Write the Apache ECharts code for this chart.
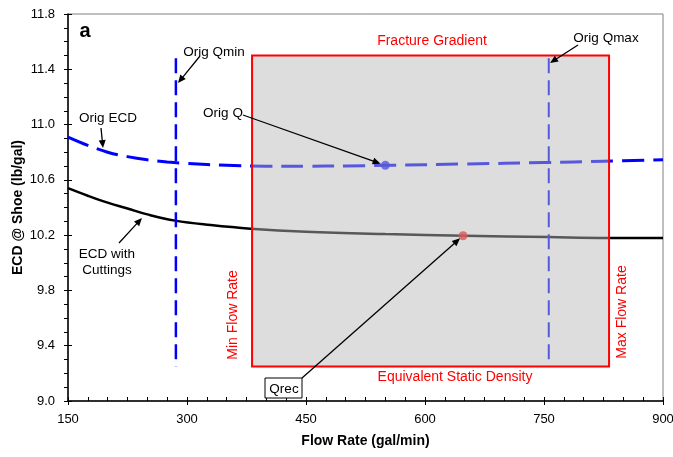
<!DOCTYPE html>
<html><head><meta charset="utf-8">
<script src="https://cdn.jsdelivr.net/npm/echarts@6/dist/echarts.min.js"></script>
<style>html,body{margin:0;padding:0;background:#fff}#c{width:673px;height:457px}</style>
</head><body><div id="c"></div>
<script>
// ---- data ----
const origFlow = [150,175,200,225,250,275,300,350,400,450,500,550,650,750,825,900];
const origEcd  = [10.91,10.85,10.80,10.768,10.745,10.729,10.718,10.705,10.699,10.699,10.701,10.705,10.715,10.725,10.735,10.745];
const cutFlow  = [150,175,200,225,250,285,330,380,450,550,650,756,830,900];
const cutEcd   = [10.54,10.485,10.435,10.393,10.35,10.305,10.273,10.247,10.225,10.208,10.196,10.186,10.18,10.18];
const xTicks = [150,300,450,600,750,900];
const yTicks = [9.0,9.4,9.8,10.2,10.6,11.0,11.4,11.8];
const qminFlow = 286, qmaxFlow = 756;
const vLineRange = [11.48, 9.25];
const origQ = [550, 10.705];
const qrec = [648, 10.196];
const windowFlow = [382, 832];
const windowEcd = [9.25, 11.5];

const FONT = '"Liberation Sans", Arial, sans-serif';
const chart = echarts.init(document.getElementById('c'));
const xMin = xTicks[0], xMax = xTicks[xTicks.length-1], xInt = xTicks[1]-xTicks[0];
const yMin = yTicks[0], yMax = yTicks[yTicks.length-1], yInt = +(yTicks[1]-yTicks[0]).toFixed(2);

const baseX = {type:'value', min:xMin, max:xMax, interval:xInt, splitLine:{show:false}};
const baseY = {type:'value', min:yMin, max:yMax, interval:yInt, splitLine:{show:false}};

chart.setOption({
  animation:false,
  backgroundColor:'#fff',
  grid:{left:68, right:10, top:14, bottom:56, show:true, borderColor:'#808080', borderWidth:1,
        containLabel:false, outerBoundsMode:'none'},
  xAxis:[
    Object.assign({}, baseX, {
      position:'bottom',
      axisLine:{lineStyle:{color:'#000', width:1.5}},
      axisTick:{inside:true, length:4, lineStyle:{color:'#000', width:1}},
      minorTick:{show:true, splitNumber:6, length:4, lineStyle:{color:'#000', width:1}},
      axisLabel:{color:'#000', fontSize:13, margin:12, fontFamily:FONT},
      name:'Flow Rate (gal/min)', nameLocation:'middle', nameGap:33, nameMoveOverlap:false,
      nameTextStyle:{color:'#000', fontWeight:'bold', fontSize:14, fontFamily:FONT}
    }),
    Object.assign({}, baseX, {
      position:'bottom',
      axisLine:{show:false},
      axisTick:{inside:false, length:4, lineStyle:{color:'#000', width:1}},
      axisLabel:{show:false}
    })
  ],
  yAxis:[
    Object.assign({}, baseY, {
      position:'left',
      axisLine:{lineStyle:{color:'#000', width:1.5}},
      axisTick:{inside:false, length:4, lineStyle:{color:'#000', width:1}},
      minorTick:{show:true, splitNumber:4, length:4, lineStyle:{color:'#000', width:1}},
      axisLabel:{color:'#000', fontSize:13, margin:13, fontFamily:FONT, formatter:v=>v.toFixed(1)},
      name:'ECD @ Shoe (lb/gal)', nameLocation:'middle', nameGap:43, nameMoveOverlap:false,
      nameTextStyle:{color:'#000', fontWeight:'bold', fontSize:14, fontFamily:FONT}
    }),
    Object.assign({}, baseY, {
      position:'left',
      axisLine:{show:false},
      axisTick:{inside:true, length:4, lineStyle:{color:'#000', width:1}},
      axisLabel:{show:false}
    })
  ],
  series:[
    {type:'line', name:'Orig ECD', xAxisIndex:0, yAxisIndex:0, smooth:0.4, showSymbol:false, z:2,
     data: origFlow.map((x,i)=>[x, origEcd[i]]),
     lineStyle:{color:'#0000ff', width:3, type:[22,9], dashOffset:0}},
    {type:'line', name:'ECD with Cuttings', smooth:0.4, showSymbol:false, z:2,
     data: cutFlow.map((x,i)=>[x, cutEcd[i]]),
     lineStyle:{color:'#000', width:2.5}},
    {type:'line', name:'Orig Qmin', showSymbol:false, z:2,
     data: vLineRange.map(y=>[qminFlow, y]),
     lineStyle:{color:'#0000ff', width:2.5, type:[15,7]}},
    {type:'line', name:'Orig Qmax', showSymbol:false, z:2,
     data: vLineRange.map(y=>[qmaxFlow, y]),
     lineStyle:{color:'#0000ff', width:2, type:[15,7]}},
    {type:'scatter', name:'Orig Q', symbolSize:9, z:3, data:[origQ], itemStyle:{color:'#0000ff'}},
    {type:'scatter', name:'Qrec', symbolSize:9, z:3, data:[qrec], itemStyle:{color:'#ff0000'}},
    {type:'custom', name:'Window', z:5, silent:true,
     encode:{x:[0,1], y:[2,3]},
     data:[[windowFlow[0], windowFlow[1], windowEcd[0], windowEcd[1]]],
     renderItem:(params, api)=>{
       const p1 = api.coord([api.value(0), api.value(3)]);
       const p2 = api.coord([api.value(1), api.value(2)]);
       return {type:'rect', shape:{x:p1[0], y:p1[1], width:p2[0]-p1[0], height:p2[1]-p1[1]},
         style:{fill:'rgba(184,184,184,0.48)', stroke:'#ff0000', lineWidth:2}};
     }}
  ]
});

function arrow(x1,y1,x2,y2,shorten){
  const dx=x2-x1, dy=y2-y1, L=Math.hypot(dx,dy), ux=dx/L, uy=dy/L;
  x2 -= ux*(shorten||0); y2 -= uy*(shorten||0);
  const hl=8, hw=3.5;
  const bx=x2-ux*hl, by=y2-uy*hl;
  return [
    {type:'line', z:100, shape:{x1:x1,y1:y1,x2:bx+ux*1,y2:by+uy*1}, style:{stroke:'#000', lineWidth:1.3}},
    {type:'polygon', z:100, shape:{points:[[x2,y2],[bx-uy*hw, by+ux*hw],[bx+uy*hw, by-ux*hw]]}, style:{fill:'#000'}}
  ];
}
function txt(s,x,y,opt){
  opt=opt||{};
  return {type:'text', z:100, x:x, y:y, rotation:opt.rot||0,
    style:{text:s, x:0, y:0, textAlign:'center', textVerticalAlign:'middle',
      fill:opt.color||'#000', font:(opt.weight||'normal')+' '+(opt.size||13.5)+'px '+FONT}};
}
const pOrigQ = chart.convertToPixel({gridIndex:0}, origQ);
const pQrec = chart.convertToPixel({gridIndex:0}, qrec);
const g = [];
g.push(txt('a', 85, 31, {weight:'bold', size:20}));
g.push(txt('Orig Qmin', 214, 52));
g.push(...arrow(200, 56, 178, 83));
g.push(txt('Orig ECD', 108, 118));
g.push(...arrow(101, 128, 103, 148));
g.push(txt('Orig Q', 223, 113));
g.push(...arrow(243, 115, pOrigQ[0], pOrigQ[1], 5));
g.push(txt('Fracture Gradient', 432, 41, {color:'#ff0000', size:14}));
g.push(txt('Orig Qmax', 606, 38));
g.push(...arrow(578, 45, 550, 63));
g.push(txt('ECD with', 107, 254));
g.push(txt('Cuttings', 107, 270));
g.push(...arrow(119, 243, 142, 218));
g.push(txt('Min Flow Rate', 233, 315, {color:'#ff0000', size:14, rot:Math.PI/2}));
g.push(txt('Max Flow Rate', 622, 312, {color:'#ff0000', size:14, rot:Math.PI/2}));
g.push(txt('Equivalent Static Density', 455, 377, {color:'#ff0000', size:14}));
g.push({type:'rect', z:99, shape:{x:265, y:378, width:37, height:20}, style:{fill:'#fff', stroke:'#000', lineWidth:1}});
g.push(txt('Qrec', 284, 389));
g.push(...arrow(302, 378, pQrec[0], pQrec[1], 4));
chart.setOption({graphic:g});
</script></body></html>
